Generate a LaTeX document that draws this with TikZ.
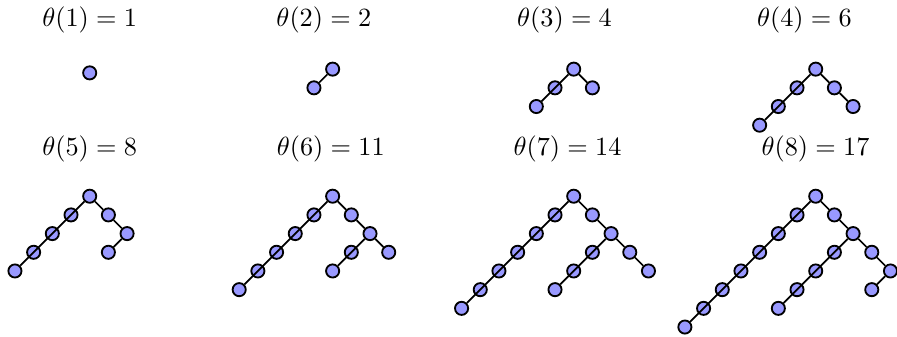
\documentclass[tikz,border=0pt]{standalone}
\usepackage{amsmath}
\usetikzlibrary{positioning}
\definecolor{vertblue}{RGB}{153,153,255}
\tikzset{
  vert/.style={circle, draw, fill=vertblue, line width=0.7pt, inner sep=0pt, minimum size=5pt},
  link/.style={line width=0.65pt},
  title/.style={anchor=base}
}

\begin{document}
\begin{tikzpicture}[x=0.25cm, y=0.25cm]
\useasboundingbox (0,0) rectangle (48,18);

% titles
\node[title] (h1) at (4.8,16.56) {$\theta(1) = 1$};
\node[title] (h2) at (17.33,16.56) {$\theta(2) = 2$};
\node[title] (h3) at (30.21,16.56) {$\theta(3) = 4$};
\node[title] (h4) at (43.05,16.56) {$\theta(4) = 6$};
\node[title] (h5) at (4.8,9.66) {$\theta(5) = 8$};
\node[title] (h6) at (17.7,9.66) {$\theta(6) = 11$};
\node[title] (h7) at (30.37,9.66) {$\theta(7) = 14$};
\node[title] (h8) at (43.64,9.66) {$\theta(8) = 17$};

% tree 1
\node[vert] (t1) at (4.8,14.1) {};

% tree 2
\begin{scope}[shift={(17.8,14.3)}]
\node[vert] (t2) at (0,0) {};
\node[vert] (t2l1) at (-1,-1) {};
\draw[link] (t2) -- (t2l1);
\end{scope}

% tree 3
\begin{scope}[shift={(30.7,14.3)}]
\node[vert] (t3) at (0,0) {};
\foreach \i in {1,2} \node[vert] (t3l\i) at (-\i,-\i) {};
\node[vert] (t3a) at (1,-1) {};
\draw[link] (t3) \foreach \i in {1,2} {-- (t3l\i)};
\draw[link] (t3) -- (t3a);
\end{scope}

% tree 4
\begin{scope}[shift={(43.65,14.3)}]
\node[vert] (t4) at (0,0) {};
\foreach \i in {1,2,3} \node[vert] (t4l\i) at (-\i,-\i) {};
\node[vert] (t4a) at (1,-1) {};
\node[vert] (t4b) at (2,-2) {};
\draw[link] (t4) \foreach \i in {1,2,3} {-- (t4l\i)};
\draw[link] (t4) -- (t4a) -- (t4b);
\end{scope}

% tree 5
\begin{scope}[shift={(4.8,7.5)}]
\node[vert] (t5) at (0,0) {};
\foreach \i in {1,...,4} \node[vert] (t5l\i) at (-\i,-\i) {};
\node[vert] (t5a) at (1,-1) {};
\node[vert] (t5b) at (2,-2) {};
\node[vert] (t5c1) at (1,-3) {};
\draw[link] (t5) \foreach \i in {1,...,4} {-- (t5l\i)};
\draw[link] (t5) -- (t5a) -- (t5b) -- (t5c1);
\end{scope}

% tree 6
\begin{scope}[shift={(17.8,7.5)}]
\node[vert] (t6) at (0,0) {};
\foreach \i in {1,...,5} \node[vert] (t6l\i) at (-\i,-\i) {};
\node[vert] (t6a) at (1,-1) {};
\node[vert] (t6b) at (2,-2) {};
\foreach \i in {1,2} \node[vert] (t6c\i) at (2-\i,-2-\i) {};
\node[vert] (t6d) at (3,-3) {};
\draw[link] (t6) \foreach \i in {1,...,5} {-- (t6l\i)};
\draw[link] (t6) -- (t6a) -- (t6b) \foreach \i in {1,2} {-- (t6c\i)};
\draw[link] (t6b) -- (t6d);
\end{scope}

% tree 7
\begin{scope}[shift={(30.7,7.5)}]
\node[vert] (t7) at (0,0) {};
\foreach \i in {1,...,6} \node[vert] (t7l\i) at (-\i,-\i) {};
\node[vert] (t7a) at (1,-1) {};
\node[vert] (t7b) at (2,-2) {};
\foreach \i in {1,2,3} \node[vert] (t7c\i) at (2-\i,-2-\i) {};
\node[vert] (t7d) at (3,-3) {};
\node[vert] (t7e) at (4,-4) {};
\draw[link] (t7) \foreach \i in {1,...,6} {-- (t7l\i)};
\draw[link] (t7) -- (t7a) -- (t7b) \foreach \i in {1,2,3} {-- (t7c\i)};
\draw[link] (t7b) -- (t7d) -- (t7e);
\end{scope}

% tree 8
\begin{scope}[shift={(43.65,7.5)}]
\node[vert] (t8) at (0,0) {};
\foreach \i in {1,...,7} \node[vert] (t8l\i) at (-\i,-\i) {};
\node[vert] (t8a) at (1,-1) {};
\node[vert] (t8b) at (2,-2) {};
\foreach \i in {1,...,4} \node[vert] (t8c\i) at (2-\i,-2-\i) {};
\node[vert] (t8d) at (3,-3) {};
\node[vert] (t8e) at (4,-4) {};
\node[vert] (t8f) at (3,-5) {};
\draw[link] (t8) \foreach \i in {1,...,7} {-- (t8l\i)};
\draw[link] (t8) -- (t8a) -- (t8b) \foreach \i in {1,...,4} {-- (t8c\i)};
\draw[link] (t8b) -- (t8d) -- (t8e) -- (t8f);
\end{scope}
\end{tikzpicture}
\end{document}
